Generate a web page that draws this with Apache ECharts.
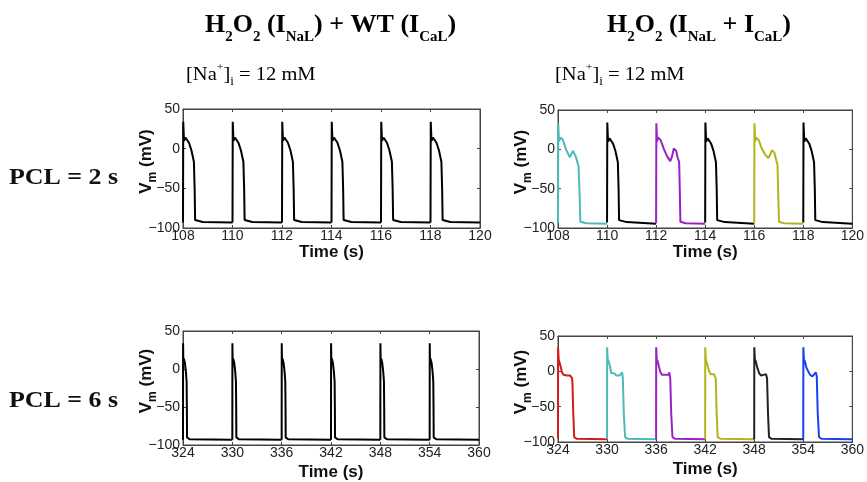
<!DOCTYPE html>
<html><head><meta charset="utf-8">
<script src="https://cdn.jsdelivr.net/npm/echarts@6/dist/echarts.min.js"></script>
<style>html,body{margin:0;padding:0;background:#fff}#c{width:867px;height:482px}</style>
</head><body><div id="c"></div>
<script>
// ---------- axes ----------
const yRange = [-100, 50];          // Vm (mV), ticks every 50
const yInterval = 50;
const xRange2s = [108, 120];        // PCL = 2 s panels, ticks every 2
const xRange6s = [324, 360];        // PCL = 6 s panels, ticks every 6

// ---------- beat onsets ----------
const beats2s = [108, 110, 112, 114, 116, 118];
const beats6s = [324, 330, 336, 342, 348, 354];

// ---------- action potential shapes (offset from onset in s, Vm in mV) ----------
// normal AP (WT ICaL), black
const wtT = [0, 0.01, 0.04, 0.1, 0.13, 0.24, 0.34, 0.44, 0.47, 0.49, 0.55, 0.8];
const wtV = [-93, 34, 10, 14, 14, 7.5, -2, -16.5, -50, -90, -91.5, -92.5];
const wtRest = -93;

// PCL = 2 s, EAD beats
const ead2CyanT = [0, 0.01, 0.04, 0.1, 0.2, 0.34, 0.48, 0.54, 0.61, 0.65, 0.72, 0.79, 0.84, 0.88, 0.91, 1.16];
const ead2CyanV = [-93.5, 33, 10, 15, 12, -1, -10, -8, -2, -2, -9, -16, -22, -58, -92, -94];
const ead2PurpleT = [0, 0.01, 0.04, 0.08, 0.18, 0.31, 0.45, 0.58, 0.65, 0.72, 0.76, 0.82, 0.88, 0.94, 0.97, 0.99, 1.2];
const ead2PurpleV = [-94, 33, 10, 15, 12, 1, -9, -15, -9, 1, 2.5, -2, -11, -16, -58, -92, -94];
const ead2YellowT = [0, 0.01, 0.04, 0.08, 0.18, 0.31, 0.45, 0.58, 0.65, 0.72, 0.76, 0.82, 0.9, 0.95, 0.98, 1.01, 1.2];
const ead2YellowV = [-94, 33, 10, 15, 12, 1, -7, -11, -7, -1, 0, -4, -14, -20, -58, -92, -94];
const eadRest2 = -94.5;

// PCL = 6 s, EAD beats
const ead6RedT = [0, 0.01, 0.08, 0.16, 0.32, 0.48, 0.68, 0.88, 1.08, 1.29, 1.49, 1.61, 1.73, 1.78, 1.87, 1.98, 2.3];
const ead6RedV = [-95, 34, 17, 18, 7, -1.4, -4.8, -7, -6, -8, -6, -5, -10, -20, -60, -93, -95.5];
const ead6CyanT = [0, 0.01, 0.08, 0.2, 0.36, 0.52, 0.72, 0.92, 1.12, 1.33, 1.53, 1.73, 1.85, 1.93, 2.05, 2.21, 2.53];
const ead6CyanV = [-96, 34, 17, 14, 7, -2.4, -5, -3, -6, -5, -6, -5, -1.4, -10, -60, -93, -95.5];
const ead6PurpleT = [0, 0.01, 0.08, 0.2, 0.36, 0.52, 0.72, 0.92, 1.12, 1.33, 1.53, 1.61, 1.73, 1.85, 2.0, 2.33];
const ead6PurpleV = [-96, 34, 17, 14, 6, -1.4, -5, -6, -5, -7, -5, -1.4, -10, -60, -93, -95.5];
const ead6YellowT = [0, 0.01, 0.08, 0.16, 0.32, 0.48, 0.68, 0.88, 1.08, 1.2, 1.29, 1.41, 1.53, 1.9];
const ead6YellowV = [-96, 34, 17, 18, 7, 0, -4, -5, -4, -2.4, -10, -60, -93, -95.5];
const ead6BlackT = [0, 0.01, 0.08, 0.2, 0.36, 0.6, 0.84, 1.12, 1.33, 1.45, 1.57, 1.69, 1.81, 2.13];
const ead6BlackV = [-96, 34, 17, 14, 6, -2.4, -6, -5, -6, -4, -10, -60, -93, -95.5];
const ead6BlueT = [0, 0.01, 0.08, 0.2, 0.36, 0.6, 0.84, 1.12, 1.33, 1.53, 1.65, 1.77, 1.93, 2.21];
const ead6BlueV = [-96, 34, 17, 14, 6, 0, -5, -7, -5.5, -1.4, -7, -60, -93, -95.5];
const eadRest6 = -96;

// colours
const cBlack = '#000000', cCyan = '#4fb9b9', cPurple = '#9a22c4', cYellow = '#b2b41c', cRed = '#d41a1a', cBlue = '#1a3ff2', cDark = '#222222';

// beat sequence per panel: [shapeT, shapeV, colour, rest]
const panelTL = beats2s.map(() => [wtT, wtV, cBlack, wtRest]);
const panelTR = [
  [ead2CyanT, ead2CyanV, cCyan, eadRest2],
  [wtT, wtV, cBlack, eadRest2],
  [ead2PurpleT, ead2PurpleV, cPurple, eadRest2],
  [wtT, wtV, cBlack, eadRest2],
  [ead2YellowT, ead2YellowV, cYellow, eadRest2],
  [wtT, wtV, cBlack, eadRest2]
];
const panelBL = beats6s.map(() => [wtT, wtV, cBlack, wtRest]);
const panelBR = [
  [ead6RedT, ead6RedV, cRed, eadRest6],
  [ead6CyanT, ead6CyanV, cCyan, eadRest6],
  [ead6PurpleT, ead6PurpleV, cPurple, eadRest6],
  [ead6YellowT, ead6YellowV, cYellow, eadRest6],
  [ead6BlackT, ead6BlackV, cDark, eadRest6],
  [ead6BlueT, ead6BlueV, cBlue, eadRest6]
];

// ---------- layout ----------
const grids = [
  {left: 183, top: 109, width: 297, height: 119},
  {left: 558, top: 110, width: 299, height: 118},
  {left: 183, top: 331, width: 296, height: 117},
  {left: 558, top: 336, width: 299, height: 106}
];
const xNameGaps = [15, 16, 19, 19];
const xRanges = [xRange2s, xRange2s, xRange6s, xRange6s];
const panels = [panelTL, panelTR, panelBL, panelBR];
const onsets = [beats2s, beats2s, beats6s, beats6s];

const sans = 'Liberation Sans, Arial, sans-serif';
const serif = 'Liberation Serif, Times New Roman, serif';
const axisColor = '#444';
const fmtMinus = v => (v < 0 ? '\u2212' + Math.abs(v) : String(v));

const xAxes = [], yAxes = [], series = [];
grids.forEach((g, i) => {
  const [xmin, xmax] = xRanges[i];
  const xInt = (xmax - xmin) / 6;
  xAxes.push({
    gridIndex: i, type: 'value', min: xmin, max: xmax, interval: xInt, position: 'bottom',
    name: 'Time (s)', nameLocation: 'middle', nameGap: xNameGaps[i],
    nameTextStyle: {fontFamily: sans, fontWeight: 'bold', fontSize: 17, color: '#111'},
    axisLine: {onZero: false, lineStyle: {color: axisColor, width: 1}},
    axisTick: {inside: true, length: 3, lineStyle: {color: axisColor}},
    axisLabel: {fontFamily: sans, fontSize: 14, color: '#222', margin: 1},
    splitLine: {show: false}
  });
  xAxes.push({
    gridIndex: i, type: 'value', min: xmin, max: xmax, interval: xInt, position: 'top',
    axisLine: {onZero: false, lineStyle: {color: axisColor, width: 1}},
    axisTick: {inside: true, length: 3, lineStyle: {color: axisColor}},
    axisLabel: {show: false}, splitLine: {show: false}
  });
  yAxes.push({
    gridIndex: i, type: 'value', min: yRange[0], max: yRange[1], interval: yInterval, position: 'left',
    name: '{b|V}{s|m}{b| (mV)}', nameLocation: 'middle', nameGap: 24, nameRotate: 90,
    nameMoveOverlap: false,
    nameTextStyle: {
      padding: [0, 0, 0, 14],
      rich: {
        b: {fontFamily: sans, fontWeight: 'bold', fontSize: 17, color: '#111', lineHeight: 26, verticalAlign: 'middle'},
        s: {fontFamily: sans, fontWeight: 'bold', fontSize: 12, color: '#111', lineHeight: 12, verticalAlign: 'bottom'}
      }
    },
    axisLine: {onZero: false, lineStyle: {color: axisColor, width: 1}},
    axisTick: {inside: true, length: 3, lineStyle: {color: axisColor}},
    axisLabel: {fontFamily: sans, fontSize: 14, color: '#222', margin: 3, formatter: fmtMinus},
    splitLine: {show: false}
  });
  yAxes.push({
    gridIndex: i, type: 'value', min: yRange[0], max: yRange[1], interval: yInterval, position: 'right',
    axisLine: {onZero: false, lineStyle: {color: axisColor, width: 1}},
    axisTick: {inside: true, length: 3, lineStyle: {color: axisColor}},
    axisLabel: {show: false}, splitLine: {show: false}
  });

  const beats = onsets[i];
  panels[i].forEach((b, k) => {
    const [T, V, col, rest] = b;
    const t0 = beats[k];
    const tEnd = k + 1 < beats.length ? beats[k + 1] : xmax;
    const data = T.map((t, j) => [t0 + t, V[j]]);
    data.push([tEnd, rest]);
    series.push({
      type: 'line', xAxisIndex: 2 * i, yAxisIndex: 2 * i, data: data,
      showSymbol: false, symbol: 'none', smooth: false,
      lineStyle: {color: col, width: 2}, itemStyle: {color: col},
      z: 3
    });
  });
});

const titleRich = {
  n: {fontFamily: serif, fontWeight: 'bold', fontSize: 26, color: '#111', lineHeight: 40, verticalAlign: 'middle'},
  s: {fontFamily: serif, fontWeight: 'bold', fontSize: 15, color: '#111', lineHeight: 15, verticalAlign: 'bottom'}
};
const naRich = {
  n: {fontFamily: serif, fontSize: 19, color: '#111', lineHeight: 26, verticalAlign: 'middle'},
  p: {fontFamily: serif, fontSize: 11, color: '#111', lineHeight: 11, verticalAlign: 'top'},
  s: {fontFamily: serif, fontSize: 12, color: '#111', lineHeight: 12, verticalAlign: 'bottom'}
};

const graphic = [
  {type: 'text', x: 205, y: 5, style: {text: '{n|H}{s|2}{n|O}{s|2}{n| (I}{s|NaL}{n|) + WT (I}{s|CaL}{n|)}', rich: titleRich}},
  {type: 'text', x: 607, y: 5, style: {text: '{n|H}{s|2}{n|O}{s|2}{n| (I}{s|NaL}{n| + I}{s|CaL}{n|)}', rich: titleRich}},
  {type: 'text', x: 186, y: 62, scaleX: 1.08, style: {text: '{n|[Na}{p|+}{n|]}{s|i}{n| = 12 mM}', rich: naRich}},
  {type: 'text', x: 555, y: 62, scaleX: 1.08, style: {text: '{n|[Na}{p|+}{n|]}{s|i}{n| = 12 mM}', rich: naRich}},
  {type: 'text', x: 9, y: 166, scaleX: 1.08, style: {text: 'PCL = 2 s', fontFamily: serif, fontWeight: 'bold', fontSize: 24, fill: '#111'}},
  {type: 'text', x: 9, y: 389, scaleX: 1.08, style: {text: 'PCL = 6 s', fontFamily: serif, fontWeight: 'bold', fontSize: 24, fill: '#111'}}
];

const chart = echarts.init(document.getElementById('c'), null, {renderer: 'canvas'});
chart.setOption({
  animation: false,
  backgroundColor: '#fff',
  grid: grids.map(g => Object.assign({containLabel: false, show: true, borderColor: axisColor, borderWidth: 1}, g)),
  xAxis: xAxes,
  yAxis: yAxes,
  series: series,
  graphic: graphic
});
</script>
</body></html>
